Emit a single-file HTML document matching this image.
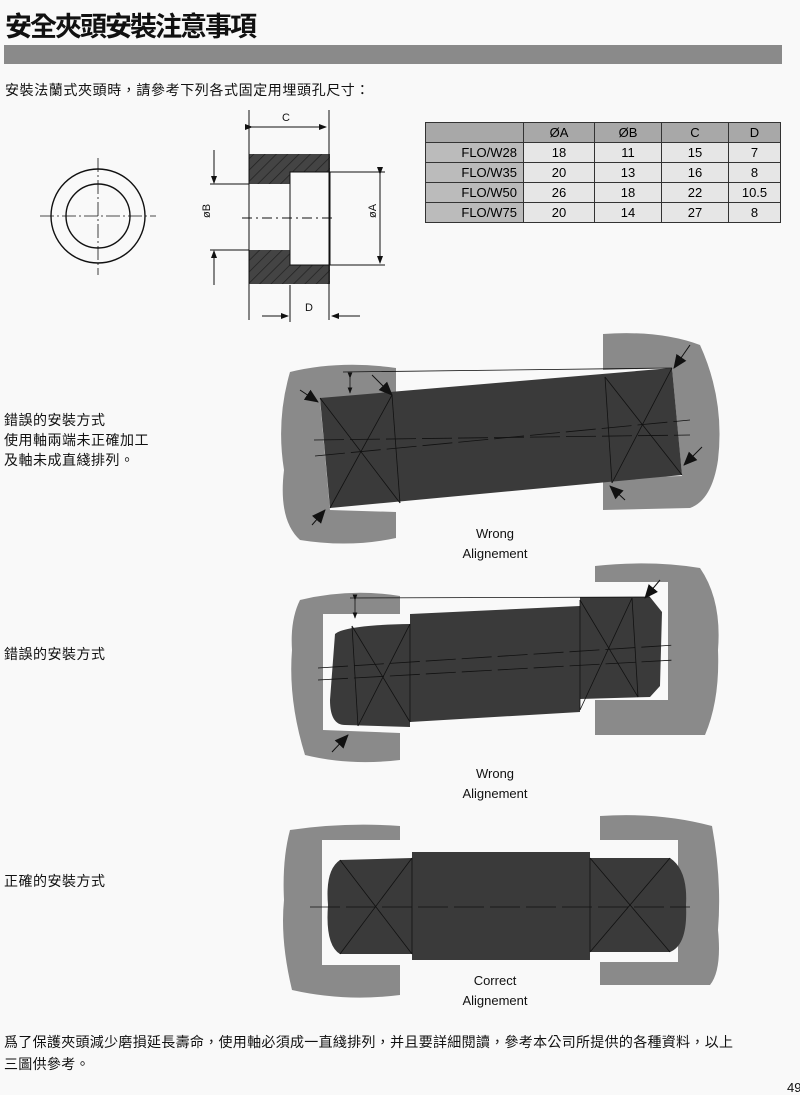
<!DOCTYPE html>
<html><head><meta charset="utf-8"><style>
html,body{margin:0;padding:0;background:#f9f9f9;}
body{width:800px;height:1094px;position:relative;overflow:hidden;font-family:"Liberation Sans","Noto Sans CJK TC",sans-serif;}
.t{position:absolute;color:#111;white-space:nowrap;}
</style></head><body>
<div class="t" style="left:5px;top:5px;font-size:27px;font-weight:bold;letter-spacing:-2px;">安全夾頭安裝注意事項</div>
<div style="position:absolute;left:4px;top:45px;width:778px;height:19px;background:#8a8a8a;"></div>
<div class="t" style="left:5px;top:80px;font-size:14px;letter-spacing:0.6px;">安裝法蘭式夾頭時，請參考下列各式固定用埋頭孔尺寸：</div>
<div class="t" style="left:4px;top:410px;font-size:14px;line-height:20px;letter-spacing:0.5px;">錯誤的安裝方式<br>使用軸兩端未正確加工<br>及軸未成直綫排列。</div>
<div class="t" style="left:4px;top:644px;font-size:14px;letter-spacing:0.5px;">錯誤的安裝方式</div>
<div class="t" style="left:4px;top:871px;font-size:14px;letter-spacing:0.5px;">正確的安裝方式</div>
<div class="t" style="left:4px;top:1031px;font-size:14px;line-height:22px;letter-spacing:0.3px;">爲了保護夾頭減少磨損延長壽命，使用軸必須成一直綫排列，并且要詳細閱讀，參考本公司所提供的各種資料，以上<br>三圖供參考。</div>
<div class="t" style="left:787px;top:1080px;font-size:13px;">49</div>

<table style="position:absolute;left:425px;top:122px;border-collapse:collapse;font-size:13px;text-align:center;width:356px;">
<tr style="background:#a8a8a8;height:20px;"><td style="border:1px solid #333;width:95px"></td><td style="border:1px solid #333;width:68px">ØA</td><td style="border:1px solid #333;width:64px">ØB</td><td style="border:1px solid #333;width:64px">C</td><td style="border:1px solid #333">D</td></tr>
<tr style="height:20px;"><td style="border:1px solid #333;background:#bbb;text-align:right;padding-right:6px">FLO/W28</td><td style="border:1px solid #333;background:#e6e6e6">18</td><td style="border:1px solid #333;background:#e6e6e6">11</td><td style="border:1px solid #333;background:#e6e6e6">15</td><td style="border:1px solid #333;background:#e6e6e6">7</td></tr>
<tr style="height:20px;"><td style="border:1px solid #333;background:#bbb;text-align:right;padding-right:6px">FLO/W35</td><td style="border:1px solid #333;background:#e6e6e6">20</td><td style="border:1px solid #333;background:#e6e6e6">13</td><td style="border:1px solid #333;background:#e6e6e6">16</td><td style="border:1px solid #333;background:#e6e6e6">8</td></tr>
<tr style="height:20px;"><td style="border:1px solid #333;background:#bbb;text-align:right;padding-right:6px">FLO/W50</td><td style="border:1px solid #333;background:#e6e6e6">26</td><td style="border:1px solid #333;background:#e6e6e6">18</td><td style="border:1px solid #333;background:#e6e6e6">22</td><td style="border:1px solid #333;background:#e6e6e6">10.5</td></tr>
<tr style="height:20px;"><td style="border:1px solid #333;background:#bbb;text-align:right;padding-right:6px">FLO/W75</td><td style="border:1px solid #333;background:#e6e6e6">20</td><td style="border:1px solid #333;background:#e6e6e6">14</td><td style="border:1px solid #333;background:#e6e6e6">27</td><td style="border:1px solid #333;background:#e6e6e6">8</td></tr>
</table>

<svg width="800" height="1094" style="position:absolute;left:0;top:0" xmlns="http://www.w3.org/2000/svg">
<defs>
<marker id="a" markerWidth="8" markerHeight="8" refX="7" refY="4" orient="auto"><path d="M0,1 L8,4 L0,7z" fill="#111"/></marker>
<marker id="b" markerWidth="14" markerHeight="14" refX="13" refY="7" orient="auto"><path d="M0,1 L14,7 L0,13z" fill="#111"/></marker>
<pattern id="h" width="8" height="8" patternUnits="userSpaceOnUse" patternTransform="rotate(45)"><rect width="8" height="8" fill="#444"/><line x1="0" y1="0" x2="0" y2="8" stroke="#222" stroke-width="1.5"/></pattern>
</defs>
<g stroke="#111" fill="none" stroke-width="1.4">
<circle cx="98" cy="216" r="47"/><circle cx="98" cy="216" r="32"/>
<line x1="40" y1="216" x2="156" y2="216" stroke-dasharray="14,3,2,3" stroke-width="0.8"/>
<line x1="98" y1="158" x2="98" y2="275" stroke-dasharray="14,3,2,3" stroke-width="0.8"/>
</g>
<rect x="249" y="154" width="81" height="18" fill="url(#h)"/>
<rect x="249" y="172" width="41" height="12" fill="url(#h)"/>
<rect x="249" y="250" width="41" height="34" fill="url(#h)"/>
<rect x="290" y="265" width="40" height="19" fill="url(#h)"/>
<rect x="290" y="172" width="40" height="93" fill="#f9f9f9" stroke="#111"/>
<g stroke="#111" stroke-width="1" fill="none">
<line x1="249" y1="110" x2="249" y2="320"/><line x1="329" y1="110" x2="329" y2="320"/>
<line x1="252" y1="127" x2="326" y2="127" marker-end="url(#a)" marker-start="url(#a)"/>
<line x1="210" y1="184" x2="249" y2="184"/><line x1="210" y1="250" x2="249" y2="250"/>
<line x1="214" y1="150" x2="214" y2="183" marker-end="url(#a)"/><line x1="214" y1="285" x2="214" y2="251" marker-end="url(#a)"/>
<line x1="330" y1="172" x2="385" y2="172"/><line x1="330" y1="265" x2="385" y2="265"/>
<line x1="380" y1="174" x2="380" y2="263" marker-end="url(#a)" marker-start="url(#a)"/>
<line x1="290" y1="285" x2="290" y2="322"/>
<line x1="262" y1="316" x2="288" y2="316" marker-end="url(#a)"/><line x1="360" y1="316" x2="332" y2="316" marker-end="url(#a)"/>
<line x1="242" y1="218" x2="335" y2="218" stroke-dasharray="10,4,2,4"/>
</g>
<g font-size="11" fill="#111" font-family="Liberation Sans,sans-serif">
<text x="282" y="121">C</text><text x="305" y="311">D</text>
<text x="206" y="222" transform="rotate(-90 206 218)">øB</text>
<text x="372" y="222" transform="rotate(-90 372 218)">øA</text>
</g>

<path d="M290,372 Q340,360 396,368 L396,397 L320,400 L330,510 L396,512 L396,538 Q350,548 300,540 Q278,520 284,470 Q276,420 290,372Z" fill="#8a8a8a"/>
<path d="M603,334 Q660,330 700,345 Q725,400 718,460 Q712,500 690,508 L603,510 L603,478 L682,476 L672,368 L603,370 Z" fill="#8a8a8a"/>
<polygon points="320,398 672,368 682,475 330,508" fill="#3a3a3a"/>
<g stroke="#111" stroke-width="0.8" fill="none">
<line x1="392" y1="395" x2="400" y2="503"/><line x1="605" y1="377" x2="612" y2="483"/>
<line x1="320" y1="398" x2="400" y2="503"/><line x1="392" y1="395" x2="330" y2="508"/>
<line x1="605" y1="377" x2="682" y2="475"/><line x1="672" y1="368" x2="612" y2="483"/>
<line x1="343" y1="372" x2="672" y2="368"/>
<line x1="314" y1="440" x2="690" y2="435" stroke-dasharray="30,6"/>
<line x1="315" y1="456" x2="690" y2="420" stroke-dasharray="30,6"/>
<line x1="350" y1="378" x2="350" y2="393" marker-end="url(#a)" marker-start="url(#a)"/>
</g>
<g stroke="#111" stroke-width="1">
<line x1="300" y1="390" x2="318" y2="402" marker-end="url(#b)"/>
<line x1="372" y1="375" x2="392" y2="395" marker-end="url(#b)"/>
<line x1="312" y1="525" x2="325" y2="510" marker-end="url(#b)"/>
<line x1="690" y1="345" x2="674" y2="368" marker-end="url(#b)"/>
<line x1="702" y1="447" x2="684" y2="465" marker-end="url(#b)"/>
<line x1="625" y1="500" x2="610" y2="486" marker-end="url(#b)"/>
</g>
<text x="495" y="538" font-size="13" text-anchor="middle" fill="#111">Wrong</text>
<text x="495" y="558" font-size="13" text-anchor="middle" fill="#111">Alignement</text>

<path d="M300,600 Q350,588 400,596 L400,614 L323,614 L323,730 L400,733 L400,760 Q350,766 305,755 Q288,700 292,650 Q290,620 300,600Z" fill="#8a8a8a"/>
<path d="M595,566 Q650,560 700,568 Q722,600 718,650 Q720,700 705,735 L595,735 L595,700 L668,700 L668,582 L595,582 Z" fill="#8a8a8a"/>
<path d="M335,634 Q345,625 410,624 L410,614 L580,606 L580,597 L650,597 L662,612 L660,686 L650,697 L580,699 L580,712 L410,722 L410,727 L345,725 Q330,725 330,700 Z" fill="#3a3a3a"/>
<g stroke="#111" stroke-width="0.8" fill="none">
<line x1="352" y1="626" x2="358" y2="726"/><line x1="410" y1="624" x2="410" y2="722"/>
<line x1="580" y1="600" x2="580" y2="710"/><line x1="632" y1="598" x2="638" y2="697"/>
<line x1="352" y1="626" x2="410" y2="722"/><line x1="410" y1="624" x2="358" y2="726"/>
<line x1="580" y1="600" x2="638" y2="697"/><line x1="632" y1="598" x2="580" y2="710"/>
<line x1="350" y1="598" x2="650" y2="597"/>
<line x1="318" y1="680" x2="675" y2="660" stroke-dasharray="30,6"/>
<line x1="318" y1="668" x2="675" y2="645" stroke-dasharray="30,6"/>
<line x1="355" y1="600" x2="355" y2="618" marker-end="url(#a)" marker-start="url(#a)"/>
</g>
<g stroke="#111" stroke-width="1">
<line x1="332" y1="752" x2="348" y2="735" marker-end="url(#b)"/>
<line x1="660" y1="580" x2="645" y2="598" marker-end="url(#b)"/>
</g>
<text x="495" y="778" font-size="13" text-anchor="middle" fill="#111">Wrong</text>
<text x="495" y="798" font-size="13" text-anchor="middle" fill="#111">Alignement</text>

<path d="M290,830 Q345,822 400,826 L400,840 L322,840 L322,965 L400,965 L400,995 Q345,1002 292,990 Q280,940 284,900 Q282,860 290,830Z" fill="#8a8a8a"/>
<path d="M600,816 Q660,812 712,826 Q722,880 718,930 Q722,970 710,985 L600,985 L600,962 L678,962 L678,840 L600,840 Z" fill="#8a8a8a"/>
<path d="M340,860 L412,858 L412,852 L590,852 L590,858 L670,858 Q688,870 686,905 Q688,945 670,952 L590,952 L590,960 L412,960 L412,954 L340,954 Q325,945 328,905 Q325,870 340,860Z" fill="#3a3a3a"/>
<g stroke="#111" stroke-width="0.8" fill="none">
<line x1="412" y1="858" x2="412" y2="954"/><line x1="590" y1="858" x2="590" y2="952"/>
<line x1="340" y1="860" x2="412" y2="954"/><line x1="412" y1="858" x2="340" y2="954"/>
<line x1="590" y1="858" x2="670" y2="952"/><line x1="670" y1="858" x2="590" y2="952"/>
<line x1="310" y1="907" x2="690" y2="907" stroke-dasharray="30,6"/>
</g>
<text x="495" y="985" font-size="13" text-anchor="middle" fill="#111">Correct</text>
<text x="495" y="1005" font-size="13" text-anchor="middle" fill="#111">Alignement</text>
</svg>
</body></html>
